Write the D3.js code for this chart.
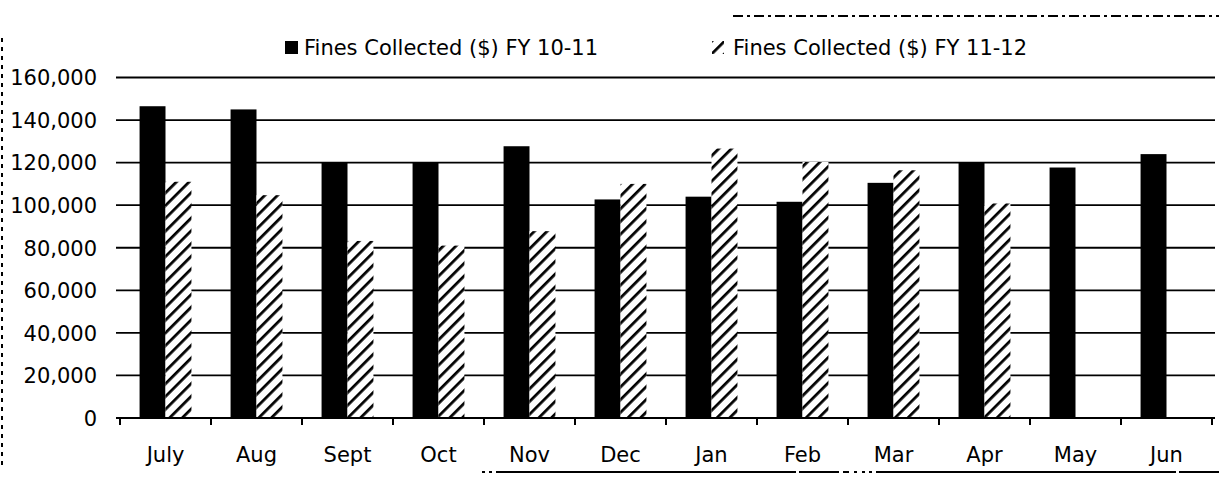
<!DOCTYPE html>
<html>
<head>
<meta charset="utf-8">
<script src="https://cdn.jsdelivr.net/npm/d3@7/dist/d3.min.js"></script>
<style>
  html, body { margin: 0; padding: 0; background: #fff; }
  svg { display: block; }
  text { font-family: "DejaVu Sans", sans-serif; fill: #000; }
</style>
</head>
<body>
<svg id="chart" width="1219" height="477"></svg>
<script>
// ---- data ----
const months = ["July", "Aug", "Sept", "Oct", "Nov", "Dec", "Jan", "Feb", "Mar", "Apr", "May", "Jun"];
const seriesNames = ["Fines Collected ($) FY 10-11", "Fines Collected ($) FY 11-12"];
const fy1011 = [146500, 145000, 120000, 120000, 127700, 102700, 104000, 101600, 110500, 120000, 117700, 124000];
const fy1112 = [111000, 104700, 83200, 81000, 87800, 110000, 126600, 120300, 116400, 100800, null, null];
const yTicks = [0, 20000, 40000, 60000, 80000, 100000, 120000, 140000, 160000];

// ---- layout ----
const svg = d3.select("#chart");
const plotLeft = 120, plotRight = 1212, plotTop = 77.5, plotBottom = 418;
const gridLeft = 116, gridRight = 1215;

const x = d3.scaleBand().domain(months).range([plotLeft, plotRight]).paddingInner(0.43).paddingOuter(0.215);
const xSub = d3.scaleBand().domain([0, 1]).range([0, x.bandwidth()]);
const y = d3.scaleLinear().domain([0, 160000]).range([plotBottom, plotTop]);

// hatch pattern
const defs = svg.append("defs");
const pat = defs.append("pattern")
  .attr("id", "hatch").attr("patternUnits", "userSpaceOnUse")
  .attr("width", 9).attr("height", 9)
  .attr("patternTransform", "rotate(45)");
pat.append("rect").attr("width", 9).attr("height", 9).attr("fill", "#fff");
pat.append("line").attr("x1", 0).attr("y1", 0).attr("x2", 0).attr("y2", 9)
  .attr("stroke", "#000").attr("stroke-width", 5.5);

// outer frame fragments (chart border)
svg.append("line").attr("x1", 2).attr("x2", 2).attr("y1", 38).attr("y2", 470)
  .attr("stroke", "#000").attr("stroke-width", 2).attr("stroke-dasharray", "4,5");
svg.append("line").attr("x1", 733).attr("x2", 1219).attr("y1", 16).attr("y2", 16)
  .attr("stroke", "#000").attr("stroke-width", 2).attr("stroke-dasharray", "10,4,3,4");
svg.append("line").attr("x1", 482).attr("x2", 1219).attr("y1", 472).attr("y2", 472)
  .attr("stroke", "#000").attr("stroke-width", 2).attr("stroke-dasharray", "3,4,3,4,300,3,40,4,6,5,3,5");

// gridlines
svg.append("g").selectAll("line").data(yTicks.filter(d => d > 0)).join("line")
  .attr("x1", gridLeft).attr("x2", gridRight)
  .attr("y1", d => y(d)).attr("y2", d => y(d))
  .attr("stroke", "#000").attr("stroke-width", 1.8);

// bars
const g = svg.append("g");
months.forEach((m, i) => {
  const vals = [fy1011[i], fy1112[i]];
  vals.forEach((v, s) => {
    if (v == null) return;
    g.append("rect")
      .attr("x", x(m) + xSub(s))
      .attr("y", y(v))
      .attr("width", xSub.bandwidth())
      .attr("height", y(0) - y(v))
      .attr("fill", s === 0 ? "#000" : "url(#hatch)");
  });
});

// y axis labels
const yAxis = d3.axisLeft(y).tickValues(yTicks).tickSize(0).tickPadding(0)
  .tickFormat(d3.format(","));
const yg = svg.append("g").attr("transform", `translate(97,0)`).call(yAxis);
yg.select(".domain").remove();
yg.selectAll("text").attr("font-size", 21).attr("font-family", "DejaVu Sans").attr("dy", "0.35em");

// x axis
const xAxis = d3.axisBottom(x).tickSize(0).tickPadding(0);
const xg = svg.append("g").attr("transform", `translate(0,${plotBottom})`).call(xAxis);
xg.select(".domain").remove();
xg.selectAll("text").attr("font-size", 21).attr("font-family", "DejaVu Sans").attr("y", 29).attr("dy", "0.71em");
svg.append("line").attr("x1", gridLeft).attr("x2", gridRight)
  .attr("y1", y(0)).attr("y2", y(0)).attr("stroke", "#000").attr("stroke-width", 2);
// tick marks at category boundaries
const step = x.step();
const bounds = d3.range(months.length + 1).map(i => x(months[0]) - x.paddingOuter() * step + i * step);
svg.append("g").selectAll("line").data(bounds).join("line")
  .attr("x1", d => d).attr("x2", d => d)
  .attr("y1", y(0)).attr("y2", y(0) + 7)
  .attr("stroke", "#000").attr("stroke-width", 2);

// legend
const leg = svg.append("g");
leg.append("rect").attr("x", 285).attr("y", 41).attr("width", 13).attr("height", 13).attr("fill", "#000");
leg.append("text").attr("x", 304).attr("y", 48).attr("dy", "0.35em").attr("font-size", 21).text(seriesNames[0]);
leg.append("rect").attr("x", 712).attr("y", 41).attr("width", 12).attr("height", 13).attr("fill", "url(#hatch)");
leg.append("text").attr("x", 733).attr("y", 48).attr("dy", "0.35em").attr("font-size", 21).text(seriesNames[1]);
</script>
</body>
</html>
